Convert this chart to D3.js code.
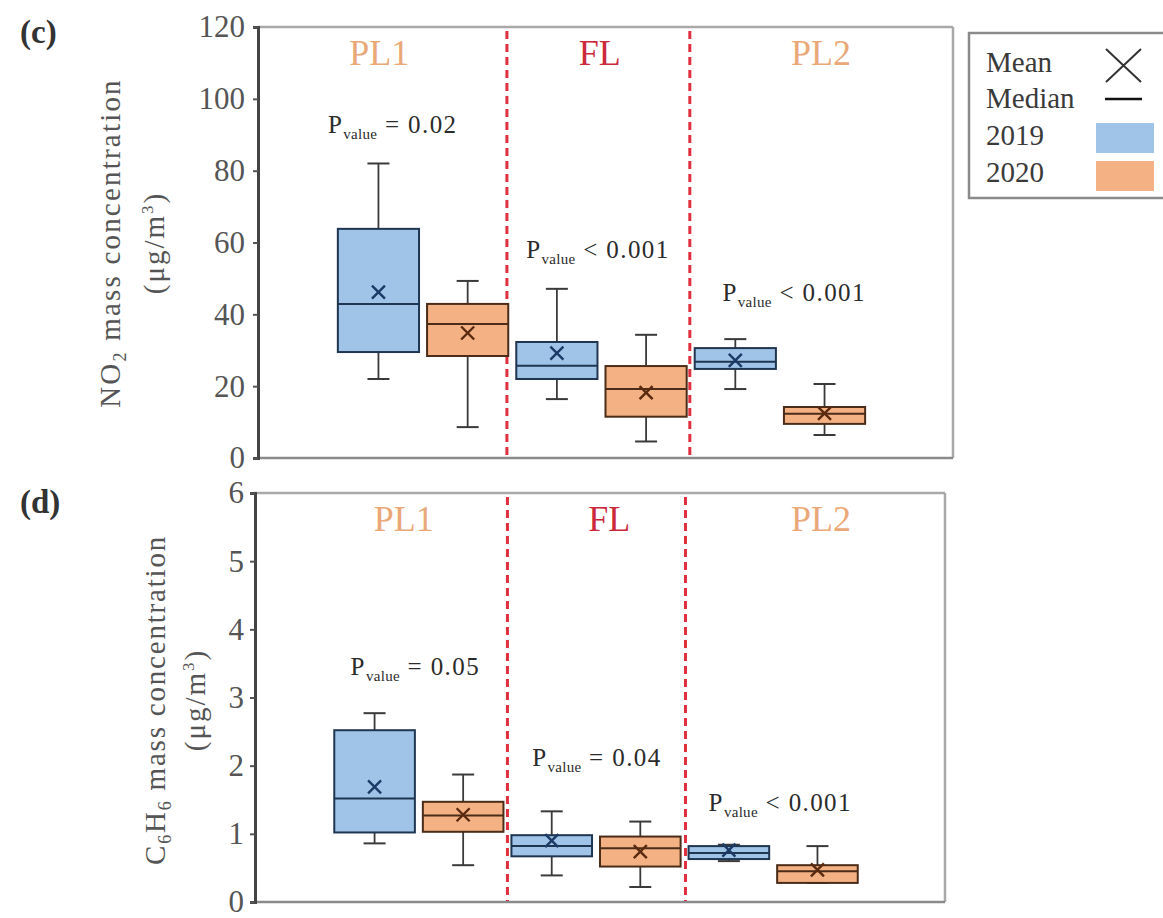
<!DOCTYPE html>
<html>
<head>
<meta charset="utf-8">
<script src="https://cdn.jsdelivr.net/npm/d3@7"></script>
<style>
  html, body { margin: 0; padding: 0; background: #fff; }
  svg { display: block; font-family: "Liberation Serif", "Times New Roman", serif; }
</style>
</head>
<body>
<svg id="chart" width="1163" height="918"></svg>
<script>
// Periods and years; boxes run PL1-2019, PL1-2020, FL-2019, FL-2020, PL2-2019, PL2-2020
const periods = ["PL1", "FL", "PL2"];
const years = ["2019", "2020"];

// NO2 box statistics (µg/m³)
const no2Low    = [22.0, 8.6, 16.4, 4.6, 19.2, 6.4];
const no2Q1     = [29.5, 28.4, 22.0, 11.5, 24.8, 9.5];
const no2Median = [42.9, 37.3, 25.7, 19.2, 26.8, 12.3];
const no2Q3     = [63.8, 42.9, 32.3, 25.6, 30.6, 14.2];
const no2High   = [82.0, 49.3, 47.1, 34.3, 33.1, 20.6];
const no2Mean   = [46.2, 34.8, 29.2, 18.2, 27.2, 12.4];
const no2P      = ["= 0.02", "< 0.001", "< 0.001"];
const no2Ticks  = [0, 20, 40, 60, 80, 100, 120];

// C6H6 box statistics (µg/m³)
const c6h6Low    = [0.86, 0.54, 0.39, 0.22, 0.60, 0.28];
const c6h6Q1     = [1.02, 1.03, 0.67, 0.52, 0.63, 0.28];
const c6h6Median = [1.52, 1.27, 0.82, 0.79, 0.72, 0.45];
const c6h6Q3     = [2.52, 1.47, 0.98, 0.96, 0.82, 0.54];
const c6h6High   = [2.77, 1.87, 1.33, 1.18, 0.84, 0.82];
const c6h6Mean   = [1.69, 1.28, 0.90, 0.74, 0.76, 0.47];
const c6h6P      = ["= 0.05", "= 0.04", "< 0.001"];
const c6h6Ticks  = [0, 1, 2, 3, 4, 5, 6];

const fillColor   = { "2019": "#9fc4e8", "2020": "#f4b183" };
const strokeColor = { "2019": "#1f3550", "2020": "#4a2c18" };
const meanColor   = { "2019": "#1c3a66", "2020": "#5a2a10" };
const periodColor = { "PL1": "#eaa878", "FL": "#cc2a3c", "PL2": "#eaa878" };

const svg = d3.select("#chart");

function drawPanel(cfg) {
  const g = svg.append("g");
  const x = d3.scaleLinear().domain([-0.35, 7.44]).range([cfg.left, cfg.right]);
  const y = d3.scaleLinear().domain([0, cfg.yMax]).range([cfg.bottom, cfg.top]);
  const boxW = (x(1) - x(0)) * 0.91;
  const capW = 22;

  const boxes = cfg.low.map((_, i) => ({
    pos: i + 1,
    year: years[i % 2],
    low: cfg.low[i], q1: cfg.q1[i], med: cfg.median[i],
    q3: cfg.q3[i], high: cfg.high[i], mean: cfg.mean[i]
  }));

  // frame: top, right and bottom borders
  g.append("line").attr("x1", cfg.left).attr("x2", cfg.right)
    .attr("y1", cfg.top).attr("y2", cfg.top)
    .attr("stroke", "#a9a9a9").attr("stroke-width", 2.5);
  g.append("line").attr("x1", cfg.right).attr("x2", cfg.right)
    .attr("y1", cfg.top).attr("y2", cfg.bottom)
    .attr("stroke", "#a9a9a9").attr("stroke-width", 2.5);
  g.append("line").attr("x1", cfg.left).attr("x2", cfg.right)
    .attr("y1", cfg.bottom).attr("y2", cfg.bottom)
    .attr("stroke", "#8a8a8a").attr("stroke-width", 2.5);

  // period dividers
  cfg.dividers.forEach(d => {
    g.append("line").attr("x1", x(d)).attr("x2", x(d))
      .attr("y1", cfg.top + 4).attr("y2", cfg.bottom - 1)
      .attr("stroke", "#e0303f").attr("stroke-width", 3)
      .attr("stroke-dasharray", "8,5");
  });

  // period names
  periods.forEach((p, i) => {
    g.append("text").attr("x", x(cfg.periodX[i])).attr("y", cfg.periodY)
      .attr("text-anchor", "middle").attr("font-size", 36)
      .attr("fill", periodColor[p]).text(p);
  });

  // whiskers
  const bx = g.selectAll("g.box").data(boxes).join("g").attr("class", "box");
  bx.append("line")
    .attr("x1", d => x(d.pos)).attr("x2", d => x(d.pos))
    .attr("y1", d => y(d.high)).attr("y2", d => y(d.low))
    .attr("stroke", "#3a3a3a").attr("stroke-width", 1.8);
  bx.append("line")
    .attr("x1", d => x(d.pos) - capW / 2).attr("x2", d => x(d.pos) + capW / 2)
    .attr("y1", d => y(d.high)).attr("y2", d => y(d.high))
    .attr("stroke", "#3a3a3a").attr("stroke-width", 2);
  bx.append("line")
    .attr("x1", d => x(d.pos) - capW / 2).attr("x2", d => x(d.pos) + capW / 2)
    .attr("y1", d => y(d.low)).attr("y2", d => y(d.low))
    .attr("stroke", "#3a3a3a").attr("stroke-width", 2);

  // boxes
  bx.append("rect")
    .attr("x", d => x(d.pos) - boxW / 2).attr("width", boxW)
    .attr("y", d => y(d.q3)).attr("height", d => y(d.q1) - y(d.q3))
    .attr("fill", d => fillColor[d.year])
    .attr("stroke", d => strokeColor[d.year]).attr("stroke-width", 2);
  // medians
  bx.append("line")
    .attr("x1", d => x(d.pos) - boxW / 2).attr("x2", d => x(d.pos) + boxW / 2)
    .attr("y1", d => y(d.med)).attr("y2", d => y(d.med))
    .attr("stroke", d => strokeColor[d.year]).attr("stroke-width", 2);
  // means
  const m = 6.5;
  bx.append("path")
    .attr("d", d => {
      const cx = x(d.pos), cy = y(d.mean);
      return `M${cx - m},${cy - m}L${cx + m},${cy + m}M${cx - m},${cy + m}L${cx + m},${cy - m}`;
    })
    .attr("stroke", d => meanColor[d.year]).attr("stroke-width", 2.4).attr("fill", "none");

  // p-values
  cfg.pText.forEach((t, i) => {
    const txt = g.append("text")
      .attr("x", x(cfg.pX[i])).attr("y", y(cfg.pY[i]))
      .attr("text-anchor", "middle").attr("font-size", 25)
      .attr("letter-spacing", 1.4).attr("fill", "#2b2b2b");
    txt.append("tspan").text("P");
    txt.append("tspan").attr("font-size", 15).attr("letter-spacing", 0.3)
      .attr("dy", 6).text("value");
    txt.append("tspan").attr("dy", -6).text(" " + t);
  });

  // left axis
  const axis = d3.axisLeft(y).tickValues(cfg.ticks).tickFormat(d3.format("d"))
    .tickSize(5).tickPadding(cfg.tickPad);
  const ag = g.append("g").attr("transform", `translate(${cfg.left},0)`).call(axis);
  ag.select(".domain").attr("stroke", "#444").attr("stroke-width", 3);
  ag.selectAll(".tick line").attr("stroke", "#555").attr("stroke-width", 2);
  ag.selectAll(".tick text").attr("font-size", 31).attr("fill", "#555")
    .attr("font-family", "Liberation Serif, serif");

  // axis title, two lines
  const t1 = g.append("text")
    .attr("transform", `translate(${cfg.titleX1},${cfg.titleY}) rotate(-90)`)
    .attr("text-anchor", "middle").attr("font-size", 29)
    .attr("letter-spacing", cfg.titleSpacing).attr("fill", "#555");
  cfg.titleParts.forEach(p => {
    const s = t1.append("tspan").text(p.t);
    if (p.sub) s.attr("font-size", 18).attr("dy", 6);
    if (p.after) s.attr("dy", -6);
  });
  const t2 = g.append("text")
    .attr("transform", `translate(${cfg.titleX2},${cfg.titleY}) rotate(-90)`)
    .attr("text-anchor", "middle").attr("font-size", 29)
    .attr("letter-spacing", 2).attr("fill", "#555");
  t2.append("tspan").text("(μg/m");
  t2.append("tspan").attr("font-size", 17).attr("dy", -11).text("3");
  t2.append("tspan").attr("dy", 11).text(")");

  // panel letter
  g.append("text").attr("x", 20).attr("y", cfg.letterY)
    .attr("font-size", 33).attr("font-weight", "bold").attr("fill", "#333")
    .text(cfg.letter);
}

drawPanel({
  left: 258, right: 953, top: 27, bottom: 458, yMax: 120, tickPad: 8,
  low: no2Low, q1: no2Q1, median: no2Median, q3: no2Q3, high: no2High, mean: no2Mean,
  ticks: no2Ticks, dividers: [2.44, 4.49],
  periodX: [1.01, 3.48, 5.96], periodY: 65,
  pText: no2P, pX: [1.16, 3.46, 5.66], pY: [90.6, 55.6, 43.6],
  titleX1: 120, titleX2: 164, titleY: 243, titleSpacing: 2.2,
  titleParts: [{ t: "NO" }, { t: "2", sub: true }, { t: " mass concentration", after: true }],
  letter: "(c)", letterY: 43
});

drawPanel({
  left: 255, right: 945, top: 493, bottom: 902, yMax: 6, tickPad: 6,
  low: c6h6Low, q1: c6h6Q1, median: c6h6Median, q3: c6h6Q3, high: c6h6High, mean: c6h6Mean,
  ticks: c6h6Ticks, dividers: [2.50, 4.51],
  periodX: [1.33, 3.65, 6.04], periodY: 531,
  pText: c6h6P, pX: [1.46, 3.51, 5.58], pY: [3.33, 1.99, 1.33],
  titleX1: 165, titleX2: 205, titleY: 700, titleSpacing: 1.8,
  titleParts: [{ t: "C" }, { t: "6", sub: true }, { t: "H", after: true }, { t: "6", sub: true }, { t: " mass concentration", after: true }],
  letter: "(d)", letterY: 513
});

// legend
const lg = svg.append("g");
lg.append("rect").attr("x", 969).attr("y", 33).attr("width", 200).attr("height", 165)
  .attr("fill", "#fff").attr("stroke", "#8a8a8a").attr("stroke-width", 2.5);
const legendRows = ["Mean", "Median", "2019", "2020"];
const rowY = [72, 108, 145, 182];
legendRows.forEach((r, i) => {
  lg.append("text").attr("x", 986).attr("y", rowY[i]).attr("font-size", 29)
    .attr("fill", "#3a3a3a").text(r);
});
lg.append("path").attr("d", "M1106,49L1141,82M1106,82L1141,49")
  .attr("stroke", "#333").attr("stroke-width", 2).attr("fill", "none");
lg.append("line").attr("x1", 1105).attr("x2", 1142).attr("y1", 99).attr("y2", 99)
  .attr("stroke", "#111").attr("stroke-width", 2.5);
lg.append("rect").attr("x", 1096).attr("y", 123).attr("width", 58).attr("height", 30)
  .attr("fill", fillColor["2019"]);
lg.append("rect").attr("x", 1096).attr("y", 161).attr("width", 58).attr("height", 30)
  .attr("fill", fillColor["2020"]);
</script>
</body>
</html>
